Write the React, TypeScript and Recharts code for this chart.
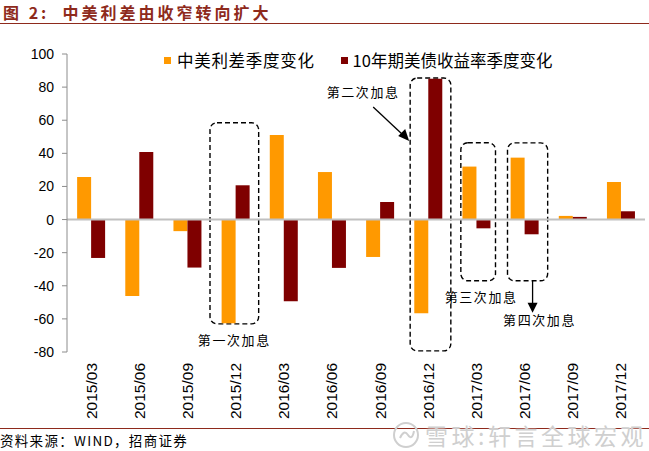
import React from 'react';
import { BarChart, Bar, XAxis, YAxis, ReferenceLine, ReferenceArea } from 'recharts';

const categories = ['2015/03', '2015/06', '2015/09', '2015/12', '2016/03', '2016/06', '2016/09', '2016/12', '2017/03', '2017/06', '2017/09', '2017/12'];
const spreadChange = [25.7, -46.1, -7, -62.7, 51, 28.7, -22.6, -56.6, 32, 37.4, 2.2, 22.7];
const ustChange = [-23.2, 40.8, -29, 20.7, -49.3, -29.2, 10.6, 85, -5.3, -8.9, 1.6, 5.0];
const yTicks = [-80, -60, -40, -20, 0, 20, 40, 60, 80, 100];
const seriesNames = ['中美利差季度变化', '10年期美债收益率季度变化'];
const hikeQuarters = ['2015/12', '2016/12', '2017/03', '2017/06'];
const hikeLabels = ['第一次加息', '第二次加息', '第三次加息', '第四次加息'];
const hikeBoxTop = [58.5, 85.5, 46.4, 46.3];
const hikeBoxBottom = [-63, -79.3, -37, -37];
const titleText = '图 2:  中美利差由收窄转向扩大';
const sourceText = '资料来源：WIND，招商证券';
const watermarkText = '雪球:轩言全球宏观';

const data = categories.map((c, i) => ({ cat: c, spread: spreadChange[i], ust: ustChange[i] }));

const ORANGE = '#FF9900';
const DARK = '#7F0000';
const TITLE_RED = '#8E2A1C';
const CJK = '"Noto Sans CJK SC", "Noto Sans", sans-serif';

// per-box style: insets from band edges and label placement
const boxStyles = [
  { inL: -1.5, inR: 1, label: 'below', ldx: 0, ldy: 17 },
  { inL: 6, inR: 1.5, label: 'leftArrow', ldx: 0, ldy: 0 },
  { inL: 8.5, inR: 5, label: 'below', ldx: 3, ldy: 17 },
  { inL: 7, inR: 1, label: 'arrowDown', ldx: 0, ldy: 0 },
];

const XTick = (props: any) => {
  const { x, y, payload } = props;
  return (
    <g transform={`translate(${x},${y + 3})`}>
      <text
        transform="rotate(-90)"
        textAnchor="end"
        dy="0.35em"
        fontSize={15.5}
        fontFamily='"Liberation Sans", Arial, sans-serif'
        fill="#000"
      >
        {payload.value}
      </text>
    </g>
  );
};

const makeBoxShape = (idx: number) => (props: any) => {
  const { x, y, width, height } = props;
  if (x == null || isNaN(x)) return <g />;
  const s = boxStyles[idx];
  const bx = x + s.inL;
  const bw = width - s.inL - s.inR;
  const cx = bx + bw / 2;
  const bottom = y + height;
  const textProps = {
    fontSize: 13,
    fontFamily: CJK,
    letterSpacing: 1.6,
    fill: '#000',
  };
  return (
    <g>
      <rect
        x={bx}
        y={y}
        width={bw}
        height={height}
        rx={7}
        ry={7}
        fill="none"
        stroke="#000"
        strokeWidth={1.4}
        strokeDasharray="5 3"
      />
      {s.label === 'below' && (
        <text x={cx + s.ldx} y={bottom + s.ldy} textAnchor="middle" dy="0.35em" {...textProps}>
          {hikeLabels[idx]}
        </text>
      )}
      {s.label === 'leftArrow' && (
        <g>
          <text x={bx - 47} y={y + 14} textAnchor="middle" dy="0.35em" {...textProps}>
            {hikeLabels[idx]}
          </text>
          <line x1={bx - 37} y1={y + 29} x2={bx - 5} y2={y + 59} stroke="#000" strokeWidth={1.3} />
          <polygon
            points={`${bx - 1},${y + 63} ${bx - 12},${y + 58} ${bx - 5},${y + 51}`}
            fill="#000"
          />
        </g>
      )}
      {s.label === 'arrowDown' && (
        <g>
          <line x1={cx + 5} y1={bottom} x2={cx + 5} y2={bottom + 24} stroke="#000" strokeWidth={1.3} />
          <polygon
            points={`${cx + 5},${bottom + 32} ${cx},${bottom + 22} ${cx + 10},${bottom + 22}`}
            fill="#000"
          />
          <text x={cx + 12} y={bottom + 40} textAnchor="middle" dy="0.35em" {...textProps}>
            {hikeLabels[idx]}
          </text>
        </g>
      )}
    </g>
  );
};

export default function App() {
  return (
    <div style={{ position: 'absolute', left: 0, top: 0, width: 649, height: 451, background: '#fff', overflow: 'hidden' }}>
      <div
        style={{
          position: 'absolute',
          left: 3,
          top: 1,
          fontFamily: CJK,
          fontWeight: 700,
          fontSize: 16,
          letterSpacing: 3,
          color: TITLE_RED,
          whiteSpace: 'pre',
          lineHeight: '22px',
        }}
      >
        {titleText}
      </div>
      <div style={{ position: 'absolute', left: 0, top: 23, width: 649, height: 1, background: TITLE_RED }} />
      <div style={{ position: 'absolute', left: 0, top: 428, width: 649, height: 1, background: TITLE_RED }} />
      <div
        style={{
          position: 'absolute',
          left: 0,
          top: 431,
          fontFamily: CJK,
          fontSize: 13.5,
          letterSpacing: 1.3,
          color: '#000',
          whiteSpace: 'pre',
          lineHeight: '18px',
        }}
      >
        {sourceText}
      </div>
      <div style={{ position: 'absolute', left: 0, top: 0 }}>
        <BarChart
          width={649}
          height={451}
          data={data}
          margin={{ top: 54, right: 4, bottom: 29, left: 0 }}
          barCategoryGap="21%"
          barGap={0}
        >
          <XAxis
            dataKey="cat"
            axisLine={false}
            tickLine={false}
            interval={0}
            height={70}
            tick={<XTick />}
          />
          <YAxis
            domain={[-80, 100]}
            ticks={yTicks}
            width={67}
            tickSize={5}
            tickMargin={8}
            axisLine={{ stroke: '#8c8c8c' }}
            tickLine={{ stroke: '#8c8c8c' }}
            tick={{ fill: '#000', fontSize: 14, fontFamily: '"Liberation Sans", Arial, sans-serif' }}
            allowDataOverflow
          />
          <ReferenceLine y={0} stroke="#c0c0c0" strokeWidth={2} />
          <Bar dataKey="spread" name={seriesNames[0]} fill={ORANGE} isAnimationActive={false} />
          <Bar dataKey="ust" name={seriesNames[1]} fill={DARK} isAnimationActive={false} />
          {hikeQuarters.map((q, i) => (
            <ReferenceArea
              key={q}
              x1={q}
              x2={q}
              y1={hikeBoxBottom[i]}
              y2={hikeBoxTop[i]}
              ifOverflow="visible"
              shape={makeBoxShape(i)}
            />
          ))}
        </BarChart>
      </div>
      <div
        style={{
          position: 'absolute',
          left: 164,
          top: 49,
          height: 22,
          display: 'flex',
          alignItems: 'center',
          fontFamily: CJK,
          fontSize: 16.5,
          color: '#000',
          whiteSpace: 'nowrap',
        }}
      >
        <span style={{ display: 'inline-block', width: 7, height: 7, background: ORANGE, marginRight: 6 }} />
        <span style={{ marginRight: 26, letterSpacing: 0.7 }}>{seriesNames[0]}</span>
        <span style={{ display: 'inline-block', width: 7, height: 7, background: DARK, marginRight: 5 }} />
        <span>{seriesNames[1]}</span>
      </div>
      <div
        style={{
          position: 'absolute',
          left: 392,
          top: 421,
          display: 'flex',
          alignItems: 'center',
          color: '#cfcfcf',
          fontFamily: CJK,
          fontSize: 23,
          letterSpacing: 3.5,
          whiteSpace: 'nowrap',
          textShadow: '0 0 2px #fff',
          lineHeight: '28px',
        }}
      >
        <svg width={28} height={28} style={{ marginRight: 5 }}>
          <circle cx={14} cy={14} r={12} fill="none" stroke="#cfcfcf" strokeWidth={2} />
          <path d="M8 17 Q12 8 16 14 Q20 20 22 10" fill="none" stroke="#cfcfcf" strokeWidth={2} />
        </svg>
        <span>{watermarkText}</span>
      </div>
    </div>
  );
}
